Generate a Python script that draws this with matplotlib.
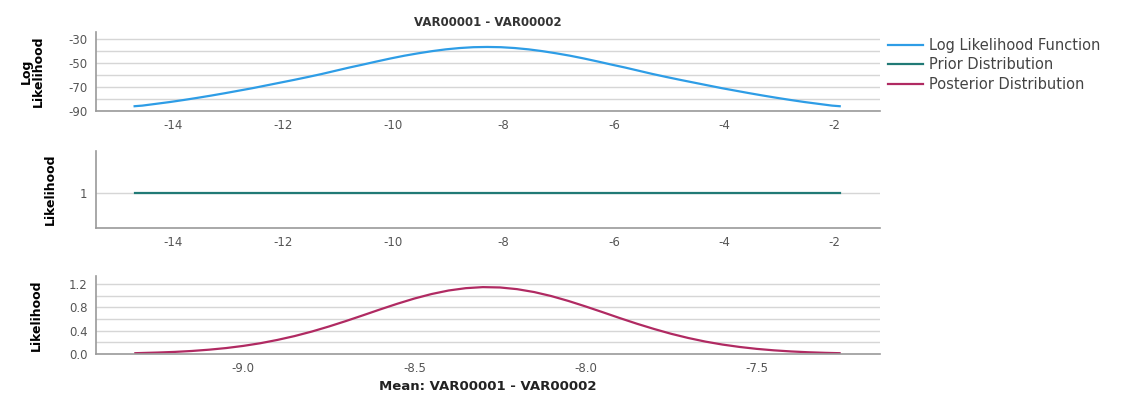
import matplotlib
matplotlib.use("Agg")
import matplotlib.pyplot as plt

plt.rcParams["axes.unicode_minus"] = False

# log likelihood of the mean
ll_x = [-14.69, -14.55, -14.3, -14.05, -13.8, -13.55, -13.3, -13.05, -12.8, -12.55, -12.3, -12.05,
        -11.8, -11.55, -11.3, -11.05, -10.8, -10.55, -10.3, -10.05, -9.8, -9.55, -9.3, -9.05,
        -8.8, -8.55, -8.3,
        -8.05, -7.8, -7.55, -7.3, -7.05, -6.8, -6.55, -6.3, -6.05, -5.8, -5.55, -5.3, -5.05,
        -4.8, -4.55, -4.3, -4.05, -3.8, -3.55, -3.3, -3.05, -2.8, -2.55, -2.3, -2.05, -1.91]
ll_y = [-86.0, -85.5, -84.0, -82.5, -80.8, -79.0, -77.1, -75.1, -73.0, -70.9, -68.6, -66.3,
        -64.0, -61.6, -59.1, -56.4, -53.7, -51.2, -48.6, -46.1, -43.8, -41.8, -40.0, -38.5,
        -37.4, -36.7, -36.5,
        -36.7, -37.4, -38.5, -40.0, -41.8, -43.8, -46.1, -48.6, -51.2, -53.7, -56.4, -59.1, -61.6,
        -64.0, -66.3, -68.6, -70.9, -73.0, -75.1, -77.1, -79.0, -80.8, -82.5, -84.0, -85.5, -86.0]

# flat prior
prior_x = [-14.69, -1.91]
prior_y = [1, 1]

# posterior of the mean
post_x = [-9.315, -9.25, -9.2, -9.15, -9.1, -9.05, -9.0, -8.95, -8.9, -8.85, -8.8, -8.75,
          -8.7, -8.65, -8.6, -8.55, -8.5, -8.45, -8.4, -8.35, -8.3, -8.25, -8.2, -8.15,
          -8.1, -8.05, -8.0, -7.95, -7.9, -7.85, -7.8, -7.75, -7.7, -7.65, -7.6, -7.55,
          -7.5, -7.45, -7.4, -7.35, -7.3, -7.258]
post_y = [0.014, 0.025, 0.036, 0.052, 0.074, 0.102, 0.139, 0.185, 0.242, 0.308, 0.385, 0.472,
          0.566, 0.665, 0.766, 0.863, 0.953, 1.030, 1.091, 1.131, 1.149, 1.143, 1.114, 1.064,
          0.995, 0.911, 0.817, 0.718, 0.617, 0.520, 0.430, 0.347, 0.275, 0.213, 0.162, 0.121,
          0.088, 0.063, 0.044, 0.030, 0.020, 0.014]

top_ticks = [-14, -12, -10, -8, -6, -4, -2]
bot_ticks = [-9.0, -8.5, -8.0, -7.5]

c_ll = "#2E9DE6"
c_prior = "#217A76"
c_post = "#B02A62"
grid_c = "#d6d6d6"
spine_c = "#9a9a9a"
tick_c = "#555555"
label_font = ["Liberation Sans Narrow", "DejaVu Sans"]

fig = plt.figure(figsize=(11.31, 3.94), dpi=100)
W, H = 1131, 394


def make_ax(top, bottom):
    ax = fig.add_axes([96 / W, 1 - bottom / H, 784 / W, (bottom - top) / H])
    for s in ["top", "right"]:
        ax.spines[s].set_visible(False)
    for s in ["left", "bottom"]:
        ax.spines[s].set_color(spine_c)
        ax.spines[s].set_linewidth(1.2)
    ax.tick_params(length=0, labelsize=8.5, colors=tick_c, pad=6)
    ax.set_axisbelow(True)
    return ax


# top panel
ax1 = make_ax(32, 111)
for v in range(-90, -20, 10):
    ax1.axhline(v, color=grid_c, lw=1, zorder=0)
l1, = ax1.plot(ll_x, ll_y, color=c_ll, lw=1.6, label="Log Likelihood Function")
ax1.set_xlim(-15.39, -1.18)
ax1.set_ylim(-90, -24)
ax1.set_xticks(top_ticks)
ax1.set_yticks([-30, -50, -70, -90])
ax1.set_ylabel("Log\nLikelihood", family=label_font, fontweight="bold", fontsize=9,
               linespacing=0.9, labelpad=17)
ax1.set_title("VAR00001 - VAR00002", fontsize=8.5, fontweight="bold", color="#333333", pad=4)

# middle panel
ax2 = make_ax(151, 228)
ax2.axhline(1, color=grid_c, lw=1, zorder=0)
l2, = ax2.plot(prior_x, prior_y, color=c_prior, lw=1.6, label="Prior Distribution")
ax2.set_xlim(-15.39, -1.18)
ax2.set_ylim(0.54, 1.54)
ax2.set_xticks(top_ticks)
ax2.set_yticks([1])
ax2.set_ylabel("Likelihood", family=label_font, fontweight="bold", fontsize=9, labelpad=17)

# bottom panel
ax3 = make_ax(276, 354)
for v in [0.2, 0.4, 0.6, 0.8, 1.0, 1.2]:
    ax3.axhline(v, color=grid_c, lw=1, zorder=0)
l3, = ax3.plot(post_x, post_y, color=c_post, lw=1.6, label="Posterior Distribution")
ax3.set_xlim(-9.43, -7.14)
ax3.set_ylim(0, 1.34)
ax3.set_xticks(bot_ticks)
ax3.set_xticklabels(["-9.0", "-8.5", "-8.0", "-7.5"])
ax3.set_yticks([0.0, 0.4, 0.8, 1.2])
ax3.set_yticklabels(["0.0", "0.4", "0.8", "1.2"])
ax3.set_ylabel("Likelihood", family=label_font, fontweight="bold", fontsize=9, labelpad=19)
ax3.set_xlabel("Mean: VAR00001 - VAR00002", fontsize=9.5, fontweight="bold", color="#222222",
               labelpad=3)

fig.legend(handles=[l1, l2, l3], loc="upper left", bbox_to_anchor=(888 / W, 1 - 38 / H),
           frameon=False, fontsize=10.5, handlelength=2.4, handletextpad=0.4, labelspacing=0.3,
           labelcolor="#444444", borderaxespad=0, borderpad=0)

fig.savefig("out.png", dpi=100)
